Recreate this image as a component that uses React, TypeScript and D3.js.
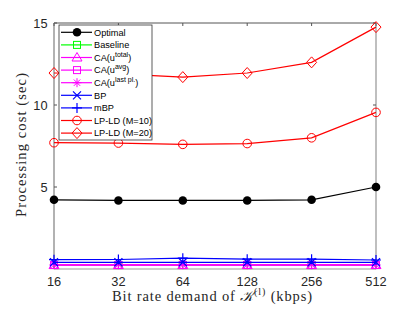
import React from "react";
import * as d3 from "d3";

const rates = [16, 32, 64, 128, 256, 512];
const yTicks = [5, 10, 15];

const optimal = [4.22, 4.18, 4.18, 4.18, 4.22, 5.0];
const baseline = [0.24, 0.24, 0.24, 0.24, 0.24, 0.24];
const caTotal = [0.24, 0.24, 0.24, 0.24, 0.24, 0.24];
const caAvg = [0.25, 0.25, 0.25, 0.25, 0.25, 0.25];
const caLast = [0.26, 0.26, 0.26, 0.26, 0.26, 0.26];
const bp = [0.41, 0.41, 0.41, 0.41, 0.41, 0.41];
const mbp = [0.57, 0.58, 0.66, 0.6, 0.6, 0.55];
const lpld10 = [7.7, 7.68, 7.6, 7.65, 8.0, 9.55];
const lpld20 = [11.95, 11.9, 11.7, 11.95, 12.6, 14.75];

type Marker = "circleFill" | "square" | "triangle" | "asterisk" | "x" | "plus" | "circle" | "diamond";

const series: { name: string; sup?: string; values: number[]; color: string; marker: Marker }[] = [
  { name: "Optimal", values: optimal, color: "#000000", marker: "circleFill" },
  { name: "Baseline", values: baseline, color: "#00ff00", marker: "square" },
  { name: "CA(u", sup: "total", values: caTotal, color: "#ff00ff", marker: "triangle" },
  { name: "CA(u", sup: "avg", values: caAvg, color: "#ff00ff", marker: "square" },
  { name: "CA(u", sup: "last pl.", values: caLast, color: "#ff00ff", marker: "asterisk" },
  { name: "BP", values: bp, color: "#0000ff", marker: "x" },
  { name: "mBP", values: mbp, color: "#0000ff", marker: "plus" },
  { name: "LP-LD (M=10)", values: lpld10, color: "#ff0000", marker: "circle" },
  { name: "LP-LD (M=20)", values: lpld20, color: "#ff0000", marker: "diamond" },
];

function MarkerShape({ type, x, y, color }: { type: Marker; x: number; y: number; color: string }) {
  const s = 4;
  switch (type) {
    case "circleFill":
      return <circle cx={x} cy={y} r={4.3} fill={color} />;
    case "circle":
      return <circle cx={x} cy={y} r={4.3} fill="none" stroke={color} strokeWidth={1} />;
    case "square":
      return <rect x={x - 3.5} y={y - 3.5} width={7} height={7} fill="none" stroke={color} strokeWidth={1} />;
    case "triangle":
      return <path d={`M${x},${y - 5}L${x + 5},${y + 3.5}L${x - 5},${y + 3.5}Z`} fill="none" stroke={color} strokeWidth={1} />;
    case "diamond":
      return <path d={`M${x},${y - 5.5}L${x + 5},${y}L${x},${y + 5.5}L${x - 5},${y}Z`} fill="none" stroke={color} strokeWidth={1} />;
    case "x":
      return <path d={`M${x - s},${y - s}L${x + s},${y + s}M${x - s},${y + s}L${x + s},${y - s}`} stroke={color} strokeWidth={1.2} />;
    case "plus":
      return <path d={`M${x - 5},${y}L${x + 5},${y}M${x},${y - 5}L${x},${y + 5}`} stroke={color} strokeWidth={1.2} />;
    case "asterisk":
      return (
        <path
          d={`M${x - 4.5},${y}L${x + 4.5},${y}M${x},${y - 4.5}L${x},${y + 4.5}M${x - 3.2},${y - 3.2}L${x + 3.2},${y + 3.2}M${x - 3.2},${y + 3.2}L${x + 3.2},${y - 3.2}`}
          stroke={color}
          strokeWidth={1}
        />
      );
  }
}

export default function App() {
  const width = 415;
  const height = 312;
  const left = 54;
  const right = 376;
  const top = 23;
  const bottom = 269;

  const x = d3.scaleLog().base(2).domain([16, 512]).range([left, right]);
  const y = d3.scaleLinear().domain([0, 15]).range([bottom, top]);

  const lineGen = d3
    .line<number>()
    .x((_, i) => x(rates[i]))
    .y((d) => y(d));

  const legX = 59;
  const legY = 25;
  const legW = 93;
  const legH = 115;
  const rowH = 12.6;

  return (
    <svg
      width={width}
      height={height}
      style={{ position: "absolute", left: 0, top: 0, background: "#fff" }}
    >
      <rect x={0} y={0} width={width} height={height} fill="#fff" />
      {/* axes box */}
      <line x1={left} x2={right} y1={top} y2={top} stroke="#555" strokeWidth={1} />
      <line x1={left} x2={right} y1={bottom} y2={bottom} stroke="#999" strokeWidth={1.2} />
      <line x1={left} x2={left} y1={top} y2={bottom} stroke="#999" strokeWidth={1.5} />
      <line x1={right} x2={right} y1={top} y2={bottom} stroke="#aaa" strokeWidth={1.5} />
      {rates.map((r) => (
        <g key={r}>
          <line x1={x(r)} x2={x(r)} y1={bottom} y2={bottom - 3} stroke="#555" />
          <line x1={x(r)} x2={x(r)} y1={top} y2={top + 3} stroke="#555" />
          <text
            x={x(r)}
            y={286}
            textAnchor="middle"
            fontFamily="Liberation Sans, Arial, sans-serif"
            fontSize={12.8}
            fill="#262626"
          >
            {r}
          </text>
        </g>
      ))}
      {yTicks.map((t) => (
        <g key={t}>
          <line x1={left} x2={left + 3} y1={y(t)} y2={y(t)} stroke="#555" />
          <line x1={right} x2={right - 3} y1={y(t)} y2={y(t)} stroke="#555" />
          <text
            x={47.5}
            y={y(t) + 4.5}
            textAnchor="end"
            fontFamily="Liberation Sans, Arial, sans-serif"
            fontSize={12.8}
            fill="#262626"
          >
            {t}
          </text>
        </g>
      ))}
      {/* series lines */}
      {series.map((s, si) => (
        <g key={si}>
          <path d={lineGen(s.values) ?? ""} fill="none" stroke={s.color} strokeWidth={1.2} />
          {s.values.map((v, i) => (
            <MarkerShape key={i} type={s.marker} x={x(rates[i])} y={y(v)} color={s.color} />
          ))}
        </g>
      ))}
      {/* axis labels */}
      <text
        x={212}
        y={301}
        textAnchor="middle"
        fontFamily="Liberation Serif, Times New Roman, serif"
        fontSize={14.5}
        fill="#262626"
        textLength={200}
        lengthAdjust="spacing"
      >
        Bit rate demand of{" "}
        <tspan fontFamily="DejaVu Serif, serif" fontStyle="italic">𝒦</tspan>
        <tspan dy={-6} fontSize={10}>(l)</tspan>
        <tspan dy={6}> (kbps)</tspan>
      </text>
      <text
        transform={`translate(26,145) rotate(-90)`}
        textAnchor="middle"
        fontFamily="Liberation Serif, Times New Roman, serif"
        fontSize={14.5}
        fill="#262626"
        textLength={144}
        lengthAdjust="spacing"
      >
        Processing cost (sec)
      </text>
      {/* legend */}
      <rect x={legX} y={legY} width={legW} height={legH} fill="#fff" stroke="#333" strokeWidth={0.8} />
      {series.map((s, i) => {
        const cy = 32.3 + rowH * i;
        return (
          <g key={i}>
            <line x1={legX + 2} x2={legX + 33} y1={cy} y2={cy} stroke={s.color} strokeWidth={1.2} />
            <MarkerShape type={s.marker} x={legX + 18} y={cy} color={s.color} />
            <text
              x={legX + 35}
              y={cy + 3.3}
              fontFamily="Liberation Sans, Arial, sans-serif"
              fontSize={9.2}
              fill="#000"
            >
              {s.name}
              {s.sup && (
                <>
                  <tspan dy={-4} fontSize={7}>{s.sup}</tspan>
                  <tspan dy={4}>)</tspan>
                </>
              )}
            </text>
          </g>
        );
      })}
    </svg>
  );
}
